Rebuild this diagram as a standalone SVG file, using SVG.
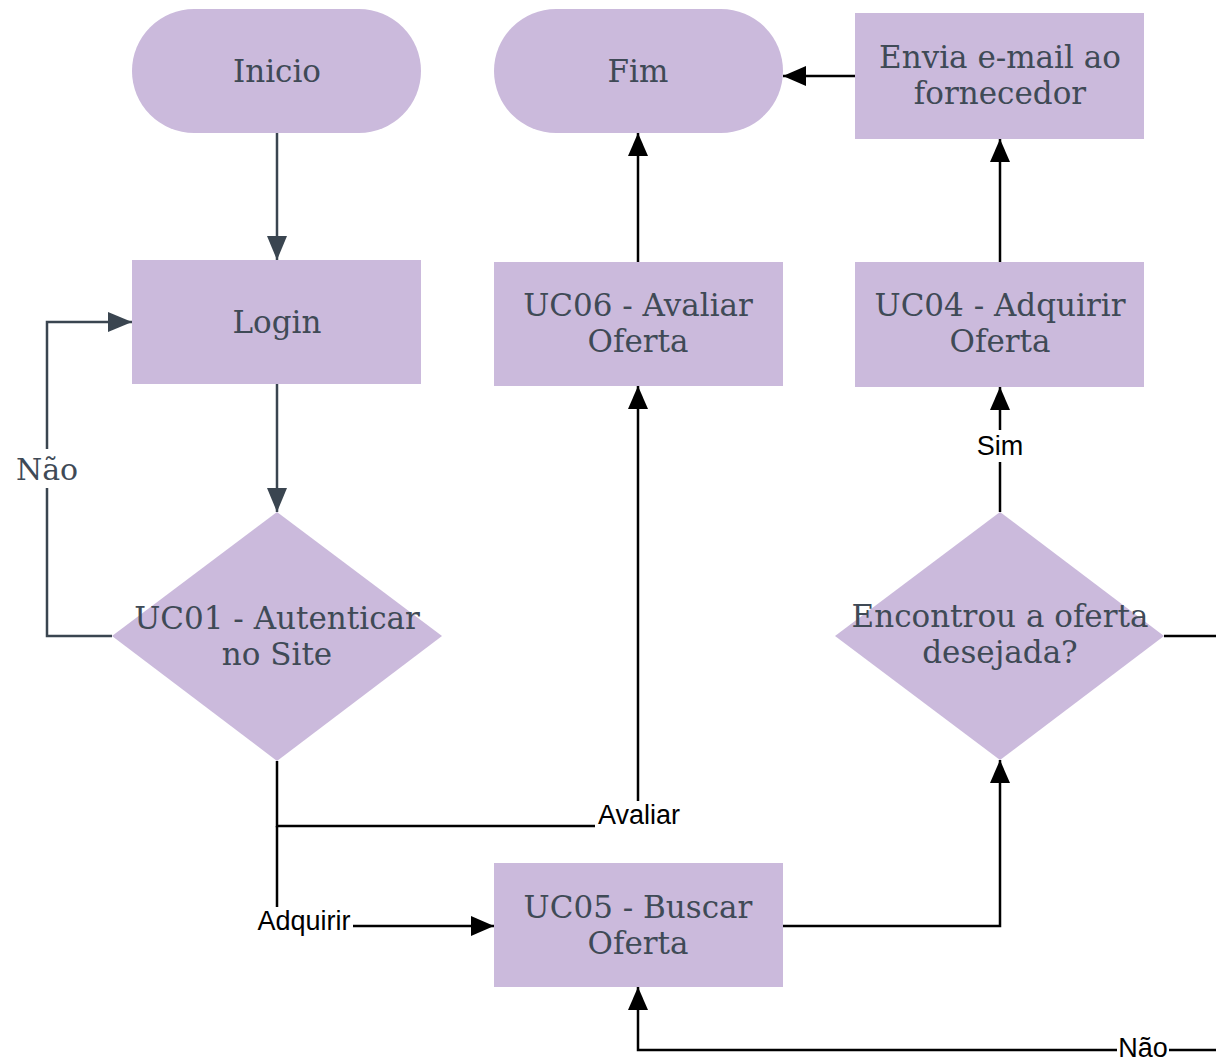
<svg xmlns="http://www.w3.org/2000/svg" width="1216" height="1057" viewBox="0 0 1216 1057">
<defs>
<style>
.n{fill:#cbbadc;}
.t{font-family:"DejaVu Serif","Liberation Serif",serif;font-size:31px;fill:#3f4a56;text-anchor:middle;}
.e{fill:none;stroke:#000;stroke-width:2.5;}
.g{fill:none;stroke:#3a4550;stroke-width:2.5;}
.l{font-family:"Liberation Sans",Arial,sans-serif;font-size:27px;fill:#000;text-anchor:middle;}
.lb{fill:#fff;}
</style>
<marker id="ab" viewBox="0 0 23 20" refX="23" refY="10" markerWidth="23" markerHeight="20" markerUnits="userSpaceOnUse" orient="auto"><path d="M0,0 L23,10 L0,20 Z" fill="#000"/></marker>
<marker id="ag" viewBox="0 0 24 20" refX="24" refY="10" markerWidth="24" markerHeight="20" markerUnits="userSpaceOnUse" orient="auto"><path d="M0,0 L24,10 L0,20 Z" fill="#3a4550"/></marker>
</defs>
<rect width="1216" height="1057" fill="#fff"/>
<g id="connectors">
<path class="g" d="M277,133 V260" marker-end="url(#ag)"/>
<path class="g" d="M277,384 V512" marker-end="url(#ag)"/>
<path class="g" d="M112,636 H47 V322 H132" marker-end="url(#ag)"/>
<rect class="lb" x="12" y="449" width="70" height="39"/>
<text x="47" y="480" class="t" style="font-size:30px">Não</text>
<path class="e" d="M277,761 V826 H638 V386" marker-end="url(#ab)"/>
<rect class="lb" x="595" y="801" width="89" height="27"/>
<text x="639" y="824" class="l">Avaliar</text>
<path class="e" d="M277,826 V926 H494" marker-end="url(#ab)"/>
<rect class="lb" x="254" y="907" width="99" height="28"/>
<text x="304" y="930" class="l">Adquirir</text>
<path class="e" d="M783,926 H1000 V760" marker-end="url(#ab)"/>
<path class="e" d="M1000,512 V387" marker-end="url(#ab)"/>
<rect class="lb" x="975" y="430" width="52" height="32"/>
<text x="1000" y="455" class="l">Sim</text>
<path class="e" d="M1164,636 H1216"/>
<path class="e" d="M1216,1050 H638 V987" marker-end="url(#ab)"/>
<rect class="lb" x="1117" y="1037" width="52" height="20"/>
<text x="1143" y="1057" class="l">Não</text>
<path class="e" d="M638,262 V133" marker-end="url(#ab)"/>
<path class="e" d="M1000,262 V139" marker-end="url(#ab)"/>
<path class="e" d="M855,76 H783" marker-end="url(#ab)"/>
</g>
<g id="inicio"><rect class="n" x="132" y="9" width="289" height="124" rx="62"/><text class="t" x="277" y="82">Inicio</text></g>
<g id="fim"><rect class="n" x="494" y="9" width="289" height="124" rx="62"/><text class="t" x="638" y="82">Fim</text></g>
<g id="envia"><rect class="n" x="855" y="13" width="289" height="126"/><text class="t" x="1000" y="68">Envia e-mail ao</text><text class="t" x="1000" y="104">fornecedor</text></g>
<g id="login"><rect class="n" x="132" y="260" width="289" height="124"/><text class="t" x="277" y="333">Login</text></g>
<g id="uc06"><rect class="n" x="494" y="262" width="289" height="124"/><text class="t" x="638" y="316">UC06 - Avaliar</text><text class="t" x="638" y="352">Oferta</text></g>
<g id="uc04"><rect class="n" x="855" y="262" width="289" height="125"/><text class="t" x="1000" y="316">UC04 - Adquirir</text><text class="t" x="1000" y="352">Oferta</text></g>
<g id="uc01"><polygon class="n" points="277,512 442,636 277,761 112,636"/><text class="t" x="277" y="629">UC01 - Autenticar</text><text class="t" x="277" y="665">no Site</text></g>
<g id="encontrou"><polygon class="n" points="1000,512 1164,636 1000,760 835,636"/><text class="t" x="1000" y="627">Encontrou a oferta</text><text class="t" x="1000" y="663">desejada?</text></g>
<g id="uc05"><rect class="n" x="494" y="863" width="289" height="124"/><text class="t" x="638" y="918">UC05 - Buscar</text><text class="t" x="638" y="954">Oferta</text></g>
</svg>
